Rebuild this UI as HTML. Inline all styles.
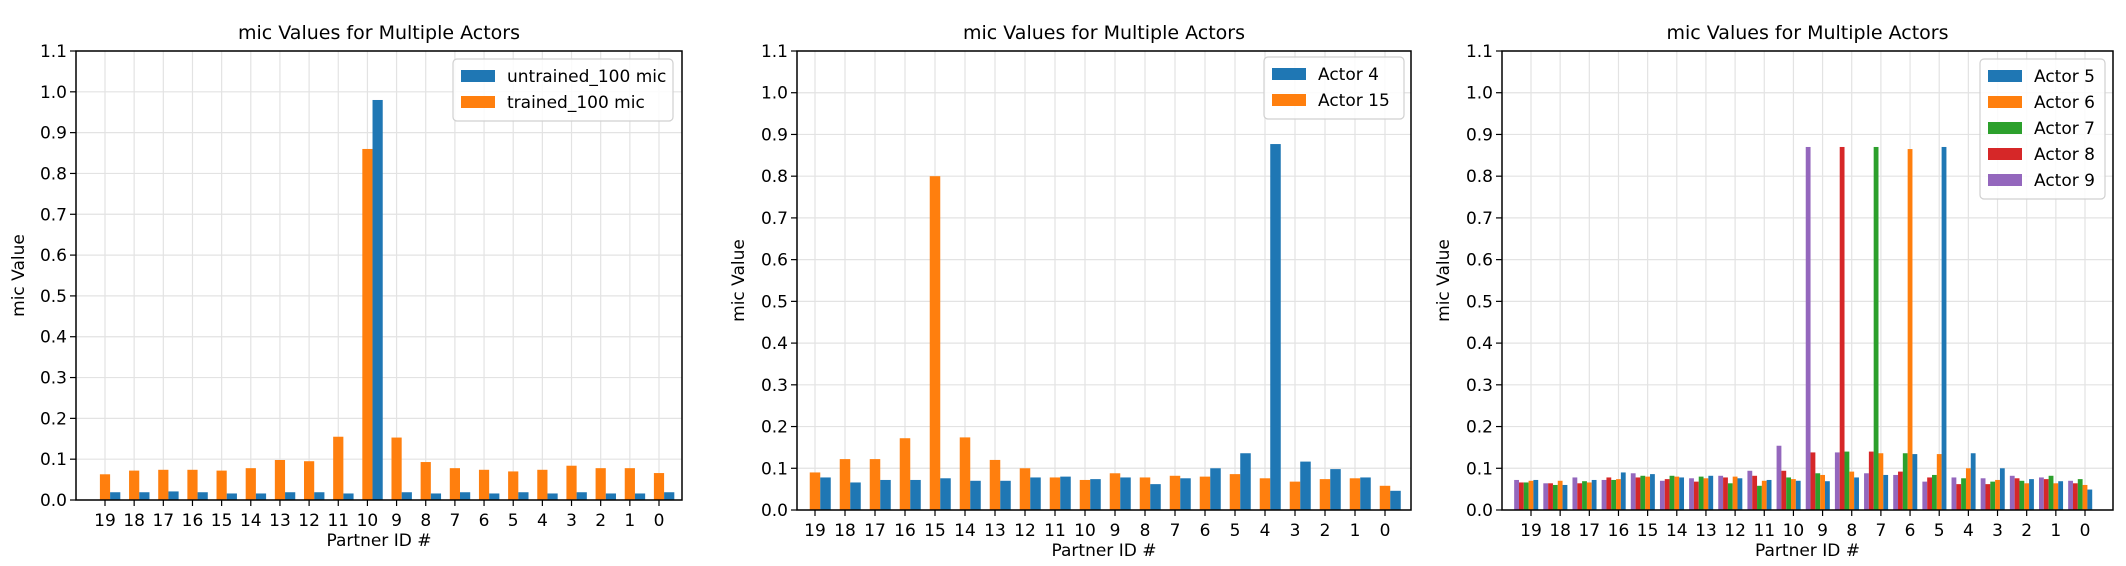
<!DOCTYPE html>
<html><head><meta charset="utf-8"><style>
html,body{margin:0;padding:0;background:#fff;}
svg{display:block;font-family:"DejaVu Sans","Liberation Sans",sans-serif;}
</style></head><body>
<svg id="fig" width="2126" height="566" viewBox="0 0 2126 566" xmlns="http://www.w3.org/2000/svg"></svg>
<script>
const categories = ["19","18","17","16","15","14","13","12","11","10","9","8","7","6","5","4","3","2","1","0"];
const yTicks = [0,0.1,0.2,0.3,0.4,0.5,0.6,0.7,0.8,0.9,1.0,1.1];
const yTickLabels = ["0.0","0.1","0.2","0.3","0.4","0.5","0.6","0.7","0.8","0.9","1.0","1.1"];
// chart 1
const c1Trained = [0.063,0.072,0.074,0.074,0.072,0.078,0.098,0.095,0.155,0.86,0.153,0.093,0.078,0.074,0.070,0.074,0.084,0.078,0.078,0.066];
const c1Untrained = [0.019,0.019,0.021,0.019,0.016,0.016,0.019,0.019,0.016,0.98,0.019,0.016,0.019,0.016,0.019,0.016,0.019,0.016,0.016,0.019];
// chart 2
const c2Actor15 = [0.090,0.122,0.122,0.172,0.80,0.174,0.120,0.100,0.078,0.072,0.088,0.078,0.082,0.080,0.086,0.076,0.068,0.074,0.076,0.058];
const c2Actor4 = [0.078,0.066,0.072,0.072,0.076,0.070,0.070,0.078,0.080,0.074,0.078,0.062,0.076,0.100,0.136,0.877,0.116,0.098,0.078,0.046];
// chart 3
const c3Actor9 = [0.072,0.064,0.078,0.072,0.088,0.070,0.076,0.082,0.094,0.154,0.87,0.138,0.088,0.084,0.068,0.078,0.076,0.082,0.078,0.070];
const c3Actor8 = [0.066,0.064,0.064,0.078,0.078,0.074,0.068,0.078,0.082,0.094,0.138,0.87,0.140,0.092,0.078,0.062,0.062,0.076,0.074,0.064];
const c3Actor7 = [0.066,0.060,0.069,0.072,0.082,0.082,0.080,0.064,0.058,0.078,0.088,0.140,0.87,0.136,0.084,0.076,0.068,0.070,0.082,0.074];
const c3Actor6 = [0.070,0.070,0.066,0.074,0.080,0.080,0.076,0.080,0.070,0.074,0.084,0.092,0.136,0.865,0.134,0.100,0.072,0.064,0.064,0.060];
const c3Actor5 = [0.072,0.060,0.072,0.090,0.086,0.078,0.082,0.076,0.072,0.070,0.069,0.078,0.084,0.134,0.87,0.136,0.100,0.074,0.069,0.049];

const NS="http://www.w3.org/2000/svg";
const svg=document.getElementById('fig');
function mk(tag,attrs,parent){const e=document.createElementNS(NS,tag);for(const k in attrs)e.setAttribute(k,attrs[k]);(parent||svg).appendChild(e);return e;}

function drawChart(cfg){
  const g=mk('g',{});
  
  
  const L=cfg.left,R=cfg.right,T=cfg.top,B=cfg.bottom;
  const n=categories.length;
  const xScale=i=>cfg.x0+(cfg.x19-cfg.x0)*i/(n-1);
  const unit=(cfg.x19-cfg.x0)/(n-1);
  const yScale=v=>B-(B-T)*v/1.1;
  yTicks.forEach(v=>{const gl=mk('line',{x1:L,x2:R,y1:yScale(v),y2:yScale(v),stroke:'#e3e3e3','stroke-width':1.2},g);
    });
  categories.forEach((c,i)=>{const gl=mk('line',{x1:xScale(i),x2:xScale(i),y1:T,y2:B,stroke:'#e3e3e3','stroke-width':1.2},g);
    });
  cfg.series.forEach(s=>{
    s.values.forEach((v,i)=>{
      const cx=xScale(i)+s.offset*unit;
      const w=cfg.barW*unit;
      const r=mk('rect',{x:cx-w/2,y:yScale(v),width:w,height:yScale(0)-yScale(v),fill:s.color},g);
      
      
    });
  });
  const fr=mk('rect',{x:L,y:T,width:R-L,height:B-T,fill:'none',stroke:'#000','stroke-width':1.5},g);
  
  yTicks.forEach((v,i)=>{
    mk('line',{x1:L-6,x2:L,y1:yScale(v),y2:yScale(v),stroke:'#000','stroke-width':1.2},g);
    const t=mk('text',{x:L-9,y:yScale(v)+6,'text-anchor':'end','font-size':17,fill:'#000'},g);
    t.textContent=yTickLabels[i];
    
  });
  categories.forEach((c,i)=>{
    mk('line',{x1:xScale(i),x2:xScale(i),y1:B,y2:B+6,stroke:'#000','stroke-width':1.2},g);
    const t=mk('text',{x:xScale(i),y:B+26,'text-anchor':'middle','font-size':17,fill:'#000'},g);
    t.textContent=c;
    
  });
  const tt=mk('text',{x:(L+R)/2,y:T-12,'text-anchor':'middle','font-size':19,fill:'#000'},g);
  tt.textContent='mic Values for Multiple Actors';
  
  const xl=mk('text',{x:(L+R)/2,y:cfg.xlabelY,'text-anchor':'middle','font-size':17,fill:'#000'},g);
  xl.textContent='Partner ID #';
  
  const yl=mk('text',{x:0,y:0,'text-anchor':'middle','font-size':17,fill:'#000',transform:`translate(${cfg.ylabelX},${(T+B)/2}) rotate(-90)`},g);
  yl.textContent='mic Value';
  
  const lg=mk('g',{},g);
  
  const lh=cfg.legend.length*26+10;
  mk('rect',{x:cfg.legX,y:cfg.legY,width:cfg.legW,height:lh,rx:4,fill:'#fff','fill-opacity':0.85,stroke:'#d0d0d0','stroke-width':1.2},lg);
  cfg.legend.forEach((e,i)=>{
    const y=cfg.legY+8+i*26;
    const p=mk('rect',{x:cfg.legX+8,y:y+3,width:34,height:12,fill:e.color},lg);
    
    const t=mk('text',{x:cfg.legX+54,y:y+15,'font-size':17,fill:'#000'},lg);
    t.textContent=e.label;
    
  });
}

const BLUE='#1f77b4',ORANGE='#ff7f0e',GREEN='#2ca02c',RED='#d62728',PURPLE='#9467bd';
drawChart({name:'chart-1',left:76,right:682,top:51,bottom:500,x0:105,x19:659,barW:0.35,xlabelY:546,ylabelX:24,
  series:[{key:'trained',values:c1Trained,color:ORANGE,offset:0},{key:'untrained',values:c1Untrained,color:BLUE,offset:0.35}],
  legX:453,legY:59,legW:220,legend:[{label:'untrained_100 mic',color:BLUE},{label:'trained_100 mic',color:ORANGE}]});
drawChart({name:'chart-2',left:797,right:1411,top:51,bottom:510,x0:815,x19:1385,barW:0.35,xlabelY:556,ylabelX:744,
  series:[{key:'actor15',values:c2Actor15,color:ORANGE,offset:0},{key:'actor4',values:c2Actor4,color:BLUE,offset:0.35}],
  legX:1264,legY:57,legW:140,legend:[{label:'Actor 4',color:BLUE},{label:'Actor 15',color:ORANGE}]});
drawChart({name:'chart-3',left:1502,right:2113,top:51,bottom:510,x0:1531,x19:2085,barW:0.165,xlabelY:556,ylabelX:1449,
  series:[{key:'actor9',values:c3Actor9,color:PURPLE,offset:-0.495},{key:'actor8',values:c3Actor8,color:RED,offset:-0.33},
          {key:'actor7',values:c3Actor7,color:GREEN,offset:-0.165},{key:'actor6',values:c3Actor6,color:ORANGE,offset:0},
          {key:'actor5',values:c3Actor5,color:BLUE,offset:0.165}],
  legX:1980,legY:59,legW:125,legend:[{label:'Actor 5',color:BLUE},{label:'Actor 6',color:ORANGE},{label:'Actor 7',color:GREEN},{label:'Actor 8',color:RED},{label:'Actor 9',color:PURPLE}]});
</script>
</body></html>
